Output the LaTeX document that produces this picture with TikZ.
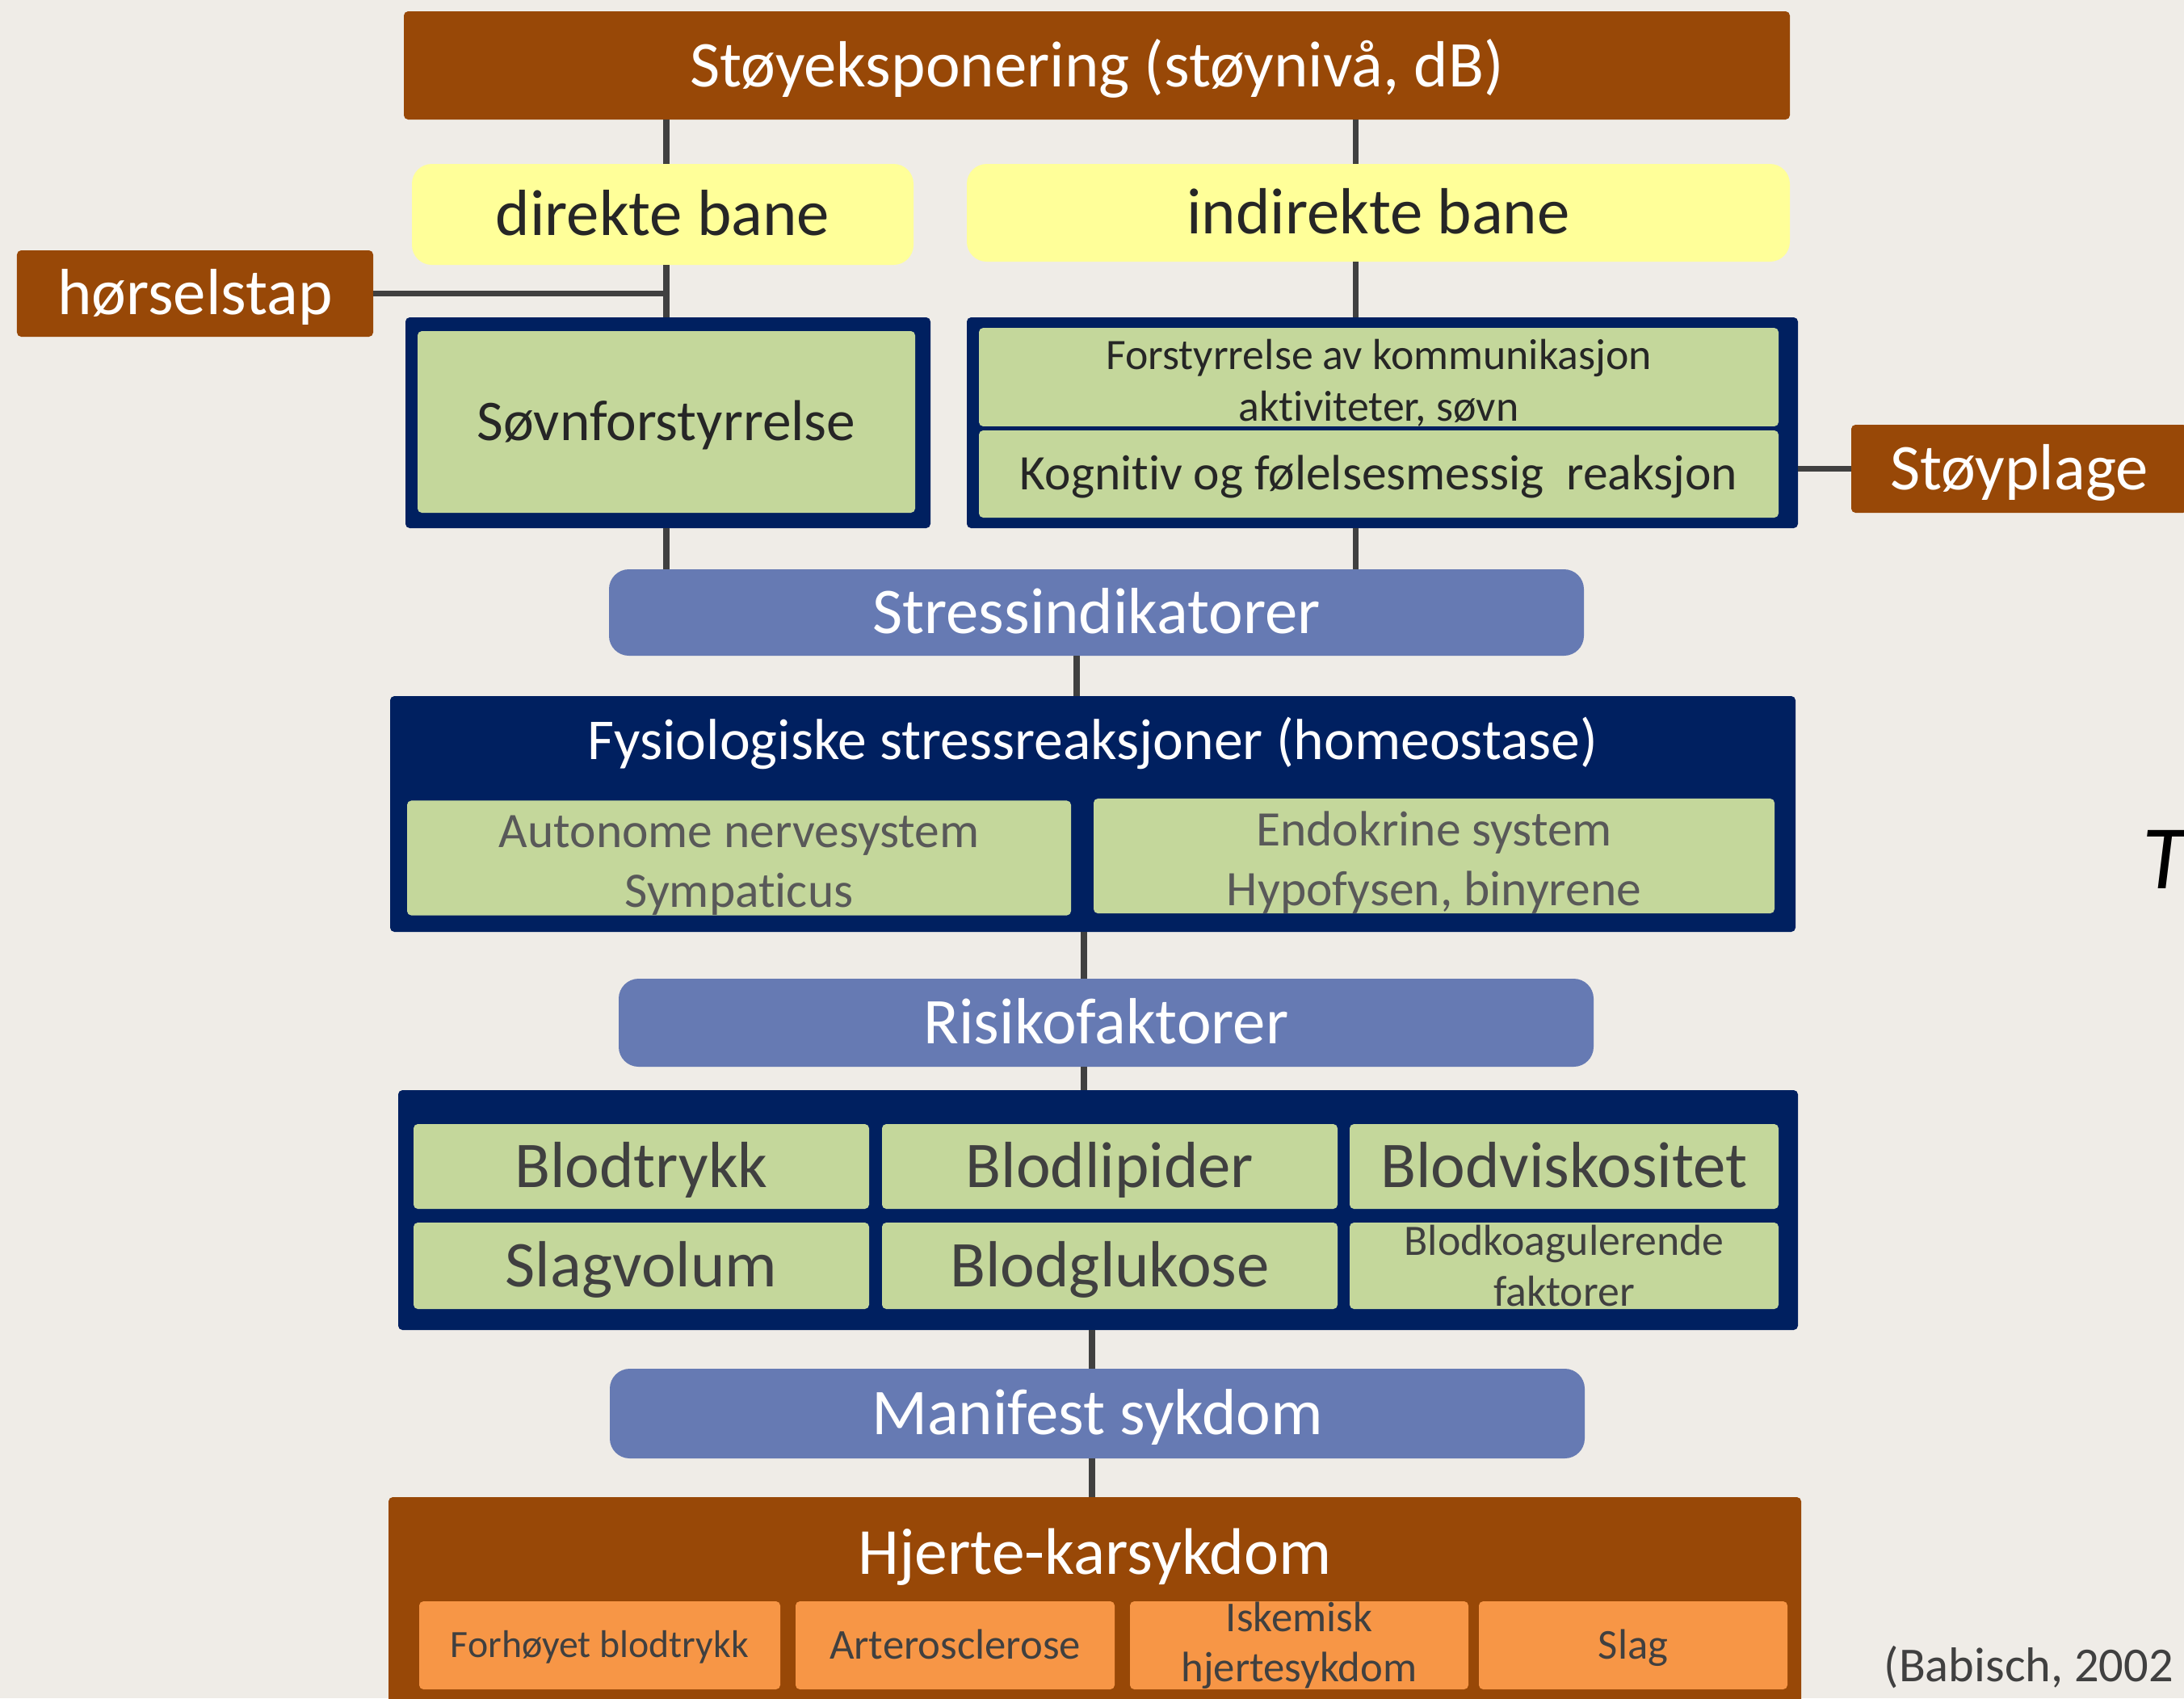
\documentclass[tikz,border=0pt]{standalone}
\usepackage{fontspec}
\setmainfont{Carlito}[Ligatures=NoCommon]
\usepackage{tikz}
\usetikzlibrary{positioning}
\definecolor{bgc}{HTML}{EFECE7}
\definecolor{brnc}{HTML}{984807}
\definecolor{ylwc}{HTML}{FFFF99}
\definecolor{nvyc}{HTML}{002060}
\definecolor{grnc}{HTML}{C4D79B}
\definecolor{bluc}{HTML}{667AB3}
\definecolor{orgc}{HTML}{F79646}
\definecolor{lnc}{HTML}{404040}
\definecolor{txtc}{HTML}{262626}
\definecolor{grytxt}{HTML}{595959}
\newcommand{\fsz}[2]{\fontsize{#1pt}{#2pt}\selectfont}
\newcommand{\st}{\rule[-0.256em]{0pt}{1.156em}}
\newcommand{\tp}{\rule{0pt}{0.95em}}
\tikzset{
  bx0/.style={inner sep=0pt,outer sep=0pt,align=center,text=txtc,font=\fsz{23}{27}},
  bx/.style={bx0,execute at begin node=\st,execute at end node=\st},
  sz/.style 2 args={minimum width=#1cm,minimum height=#2cm},
  brn/.style={bx,fill=brnc,text=white,rounded corners=1.5pt},
  ylw/.style={bx,fill=ylwc,rounded corners=7pt},
  nvy/.style={bx,fill=nvyc,rounded corners=1.5pt},
  grn/.style={bx,fill=grnc,rounded corners=1.5pt},
  grm/.style={bx0,fill=grnc,rounded corners=1.5pt},
  blu/.style={bx,fill=bluc,text=white,rounded corners=7pt},
  org/.style={bx,fill=orgc,text=lnc,rounded corners=1.5pt,font=\fsz{15}{17.6}},
  orm/.style={bx0,fill=orgc,text=lnc,rounded corners=1.5pt,font=\fsz{15}{17.6}},
  ln/.style={draw=lnc,line width=2pt}
}

\begin{document}
\begin{tikzpicture}
\fill[bgc] (0,0) rectangle (27.04,-21.03);
\useasboundingbox (0,0) rectangle (27.04,-21.03);
% columns of the connectors
\coordinate (cl) at (8.25,0);
\coordinate (cr) at (16.78,0);
\coordinate (ca) at (13.33,0);
\coordinate (cb) at (13.42,0);
\coordinate (cc) at (13.52,0);

% exposure and paths
\node[brn,sz={17.16}{1.34}] (expo) at (13.58,-0.81) {Støyeksponering (støynivå, dB)};
\node[ylw,sz={6.21}{1.25}] (dir) at (8.205,-2.655) {direkte bane};
\node[ylw,sz={10.19}{1.21}] (indir) at (17.065,-2.635) {indirekte bane};
\node[brn,sz={4.41}{1.07}] (horsel) at (2.415,-3.635) {hørselstap};

% disturbances
\node[nvy,sz={6.50}{2.61}] (sovnbox) at (8.27,-5.235) {};
\node[grn,sz={6.16}{2.25},font=\fsz{20.3}{24}] (sovn) at (8.25,-5.225) {Søvnforstyrrelse};
\node[nvy,sz={10.29}{2.61}] (indbox) at (17.115,-5.235) {};
\node[grm,sz={9.90}{1.14},font=\fsz{15.3}{18.2}] (komm) at (17.07,-4.67) {\tp Forstyrrelse av kommunikasjon\\aktiviteter, søvn};
\node[grn,sz={9.90}{1.08},font=\fsz{17.5}{21}] (kogn) at (17.07,-5.87) {Kognitiv og følelsesmessig\ \ reaksjon};
\node[brn,sz={4.16}{1.09}] (plage) at (25.0,-5.805) {Støyplage};

% stress
\node[blu,sz={12.07}{1.07}] (stress) at (13.575,-7.585) {Stressindikatorer};
\node[nvy,sz={17.40}{2.92}] (fysbox) at (13.53,-10.08) {};
\node[bx,text=white,font=\fsz{20.4}{24}] (fystit) at (13.53,-9.17) {Fysiologiske stressreaksjoner (homeostase)};
\node[grm,sz={8.22}{1.41},text=grytxt,font=\fsz{17.5}{21}] (auto) at (9.15,-10.625) {\tp Autonome nervesystem\\Sympaticus};
\node[grm,sz={8.43}{1.36},text=grytxt,font=\fsz{17.5}{21}] (endo) at (17.755,-10.60) {\tp Endokrine system\\Hypofysen, binyrene};

% risk factors
\node[blu,sz={12.07}{1.09}] (risk) at (13.695,-12.665) {Risikofaktorer};
\node[nvy,sz={17.33}{2.97}] (riskbox) at (13.595,-14.985) {};
\node[grn,sz={5.64}{1.05},text=lnc] (trykk) at (7.94,-14.445) {Blodtrykk};
\node[grn,sz={5.64}{1.05},text=lnc] (lipid) at (13.74,-14.445) {Blodlipider};
\node[grn,sz={5.31}{1.05},text=lnc] (visk) at (19.365,-14.445) {Blodviskositet};
\node[grn,sz={5.64}{1.07},text=lnc] (slagv) at (7.94,-15.675) {Slagvolum};
\node[grn,sz={5.64}{1.07},text=lnc] (gluk) at (13.74,-15.675) {Blodglukose};
\node[grm,sz={5.31}{1.07},text=lnc,font=\fsz{15.3}{18.2}] (koag) at (19.365,-15.675) {Blodkoagulerende\\faktorer};

% disease
\node[blu,sz={12.07}{1.11}] (manif) at (13.585,-17.505) {Manifest sykdom};
\node[brn,sz={17.49}{2.66}] (hjbox) at (13.555,-19.87) {};
\node[bx,text=white,font=\fsz{23.2}{27}] (hjtit) at (13.555,-19.23) {Hjerte-karsykdom};
\node[org,sz={4.47}{1.09},font=\fsz{13.6}{17.6}] (hoyt) at (7.425,-20.375) {Forhøyet blodtrykk};
\node[org,sz={3.95}{1.09}] (arter) at (11.825,-20.375) {Arterosclerose};
\node[orm,sz={4.19}{1.09}] (iskem) at (16.085,-20.375) {Iskemisk\\hjertesykdom};
\node[org,sz={3.82}{1.09}] (slag) at (20.22,-20.375) {Slag};

\node[anchor=base west,inner sep=0pt,text=lnc,font=\fsz{17.2}{20}] (kilde) at (23.32,-20.82) {(Babisch, 2002};
\node[anchor=base west,inner sep=0pt,text=black,font=\fsz{32}{38}\itshape] (tt) at (26.52,-11.0) {T};

% connectors
\draw[ln] (cl |- expo.south) -- (cl |- dir.north);
\draw[ln] (cr |- expo.south) -- (cr |- indir.north);
\draw[ln] (cl |- dir.south) -- (cl |- sovnbox.north);
\draw[ln] (horsel.east) -- (horsel.east -| cl);
\draw[ln] (cr |- indir.south) -- (cr |- indbox.north);
\draw[ln] (plage.west -| indbox.east) -- (plage.west);
\draw[ln] (cl |- sovnbox.south) -- (cl |- stress.north);
\draw[ln] (cr |- indbox.south) -- (cr |- stress.north);
\draw[ln] (ca |- stress.south) -- (ca |- fysbox.north);
\draw[ln] (cb |- fysbox.south) -- (cb |- risk.north);
\draw[ln] (cb |- risk.south) -- (cb |- riskbox.north);
\draw[ln] (cc |- riskbox.south) -- (cc |- manif.north);
\draw[ln] (cc |- manif.south) -- (cc |- hjbox.north);
\end{tikzpicture}
\end{document}
